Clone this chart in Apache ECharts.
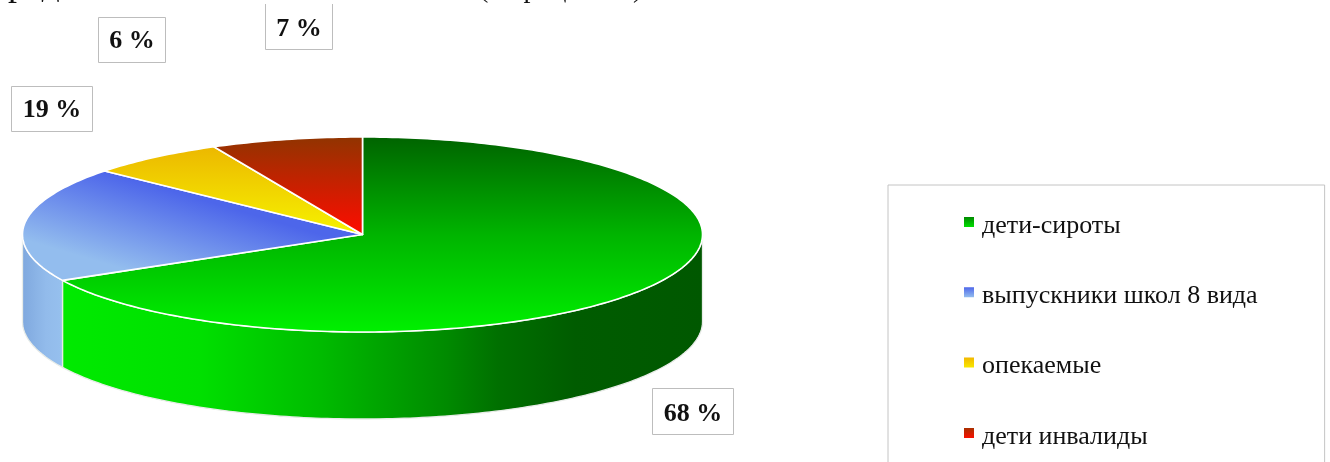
<!DOCTYPE html>
<html><head><meta charset="utf-8">
<style>html,body{margin:0;padding:0;background:#fff;overflow:hidden}#c{width:1330px;height:462px}</style>
<script src="https://cdn.jsdelivr.net/npm/echarts@6/dist/echarts.min.js"></script>
</head><body><div id="c"></div>
<script>
const categories = ['дети-сироты', 'выпускники школ 8 вида', 'опекаемые', 'дети инвалиды'];
const sliceShares = [67.2, 19.1, 6.5, 7.2];
const sliceLabels = ['68 %', '19 %', '6 %', '7 %'];

const pie = { cx: 362.5, cy: 234.5, rx: 340, ry: 97.5, depth: 87 };
const labelBoxes = [[652, 388, 81, 46], [11, 86, 81, 45], [98, 17, 67, 45], [265, -6, 67, 55]];
const labelTextY = [414, 110, 41, 29];
const FONT = '"Liberation Serif","DejaVu Serif",serif';
const G = echarts.graphic.LinearGradient;
const stops = cs => cs.map(([o, c]) => ({ offset: o, color: c }));
const topFills = [
  new G(0, 137, 0, 332, stops([[0, '#006400'], [0.5, '#00b400'], [1, '#00f000']]), true),
  new G(220, 205, 195, 290, stops([[0, '#4d66ea'], [1, '#93bdee']]), true),
  new G(0, 147, 0, 234, stops([[0, '#ecb800'], [1, '#f6f200']]), true),
  new G(0, 137, 0, 234, stops([[0, '#913400'], [1, '#ff0c00']]), true)
];
const wallFills = [
  new G(62, 0, 703, 0, stops([[0, '#00ea00'], [0.215, '#00e000'], [0.4, '#00bc00'], [0.6, '#008a00'], [0.68, '#007000'], [0.8, '#005c00'], [1, '#005800']]), true),
  new G(22, 0, 62, 0, stops([[0, '#7fa8de'], [0.6, '#92bbeb'], [1, '#96c0ee']]), true),
  '#d8b000', '#aa3000'
];
const legendStop = 10 / 18;
const legendFills = [
  new G(0, 0, 0, legendStop, stops([[0, '#008a00'], [1, '#00e000']])),
  new G(0, 0, 0, legendStop, stops([[0, '#4f68ea'], [1, '#93bdee']])),
  new G(0, 0, 0, legendStop, stops([[0, '#f2b800'], [1, '#f8e800']])),
  new G(0, 0, 0, legendStop, stops([[0, '#a83000'], [1, '#f81000']]))
];
const legendIcon = 'path://M0 0L10 0L10 10L0 10ZM0 18L0 18Z';

const total = sliceShares.reduce((a, b) => a + b, 0);
const startShare = i => sliceShares.slice(0, i).reduce((a, b) => a + b, 0);
const pt = (deg, dy) => {
  const r = deg * Math.PI / 180;
  return [pie.cx + pie.rx * Math.sin(r), pie.cy - pie.ry * Math.cos(r) + (dy || 0)];
};
function arc(a, b, dy) {
  const out = [], n = Math.max(2, Math.ceil(b - a));
  for (let k = 0; k <= n; k++) out.push(pt(a + (b - a) * k / n, dy));
  return out;
}
function renderSlice(i) {
  return function (params, api) {
    const a = startShare(i) / total * 360;
    const b = a + api.value(0) / total * 360;
    const children = [];
    const wa = Math.max(a, 90), wb = Math.min(b, 270);
    if (wb > wa) {
      const top = arc(wa, wb, 0), bot = arc(wa, wb, pie.depth).reverse();
      children.push({ type: 'polygon', shape: { points: top.concat(bot) },
        style: { fill: wallFills[i], stroke: '#e8ece8', lineWidth: 1.3 } });
    }
    children.push({ type: 'polygon', shape: { points: [[pie.cx, pie.cy]].concat(arc(a, b, 0)) },
      style: { fill: topFills[i], stroke: '#ffffff', lineWidth: 1.6, lineJoin: 'round' } });
    const [bx, by, bw, bh] = labelBoxes[i];
    children.push({ type: 'rect', shape: { x: bx + .5, y: by + .5, width: bw, height: bh },
      style: { fill: '#fff', stroke: '#bdbdbd', lineWidth: 1 } });
    children.push({ type: 'text', style: { text: sliceLabels[i], x: bx + bw / 2 + .5, y: labelTextY[i],
      align: 'center', verticalAlign: 'middle', font: 'bold 26px ' + FONT, fill: '#111' } });
    return { type: 'group', children };
  };
}

const series = categories.map((name, i) => ({
  type: 'custom', name, coordinateSystem: 'none', silent: true, animation: false, clip: false,
  itemStyle: { color: legendFills[i] },
  data: [[sliceShares[i]]], renderItem: renderSlice(i)
}));

const chart = echarts.init(document.getElementById('c'), null, { renderer: 'canvas' });
chart.setOption({
  animation: false,
  legend: {
    orient: 'vertical', left: 888, top: 185, height: 420, selectedMode: false,
    padding: [27, 67, 40, 76], itemGap: 42.3, itemWidth: 10, itemHeight: 18,
    borderColor: '#c4c4c4', borderWidth: 1,
    textStyle: { fontFamily: FONT, fontSize: 26, color: '#111', padding: [0, 0, 0, 3], lineHeight: 28 },
    data: categories.map((name, i) => ({ name, icon: legendIcon, itemStyle: { color: legendFills[i] } }))
  },
  graphic: [
    { type: 'rect', z: 50, shape: { x: 0, y: 0, width: 1330, height: 4 }, style: { fill: '#fff' } },
    { type: 'text', z: 51, style: { text: 'реди воспитанников', x: 8, y: -32, font: '36px ' + FONT, fill: '#111' } },
    { type: 'text', z: 51, style: { text: '(в процентах)', x: 479, y: -24, font: '28px ' + FONT, fill: '#111' } }
  ],
  series
});
</script></body></html>
